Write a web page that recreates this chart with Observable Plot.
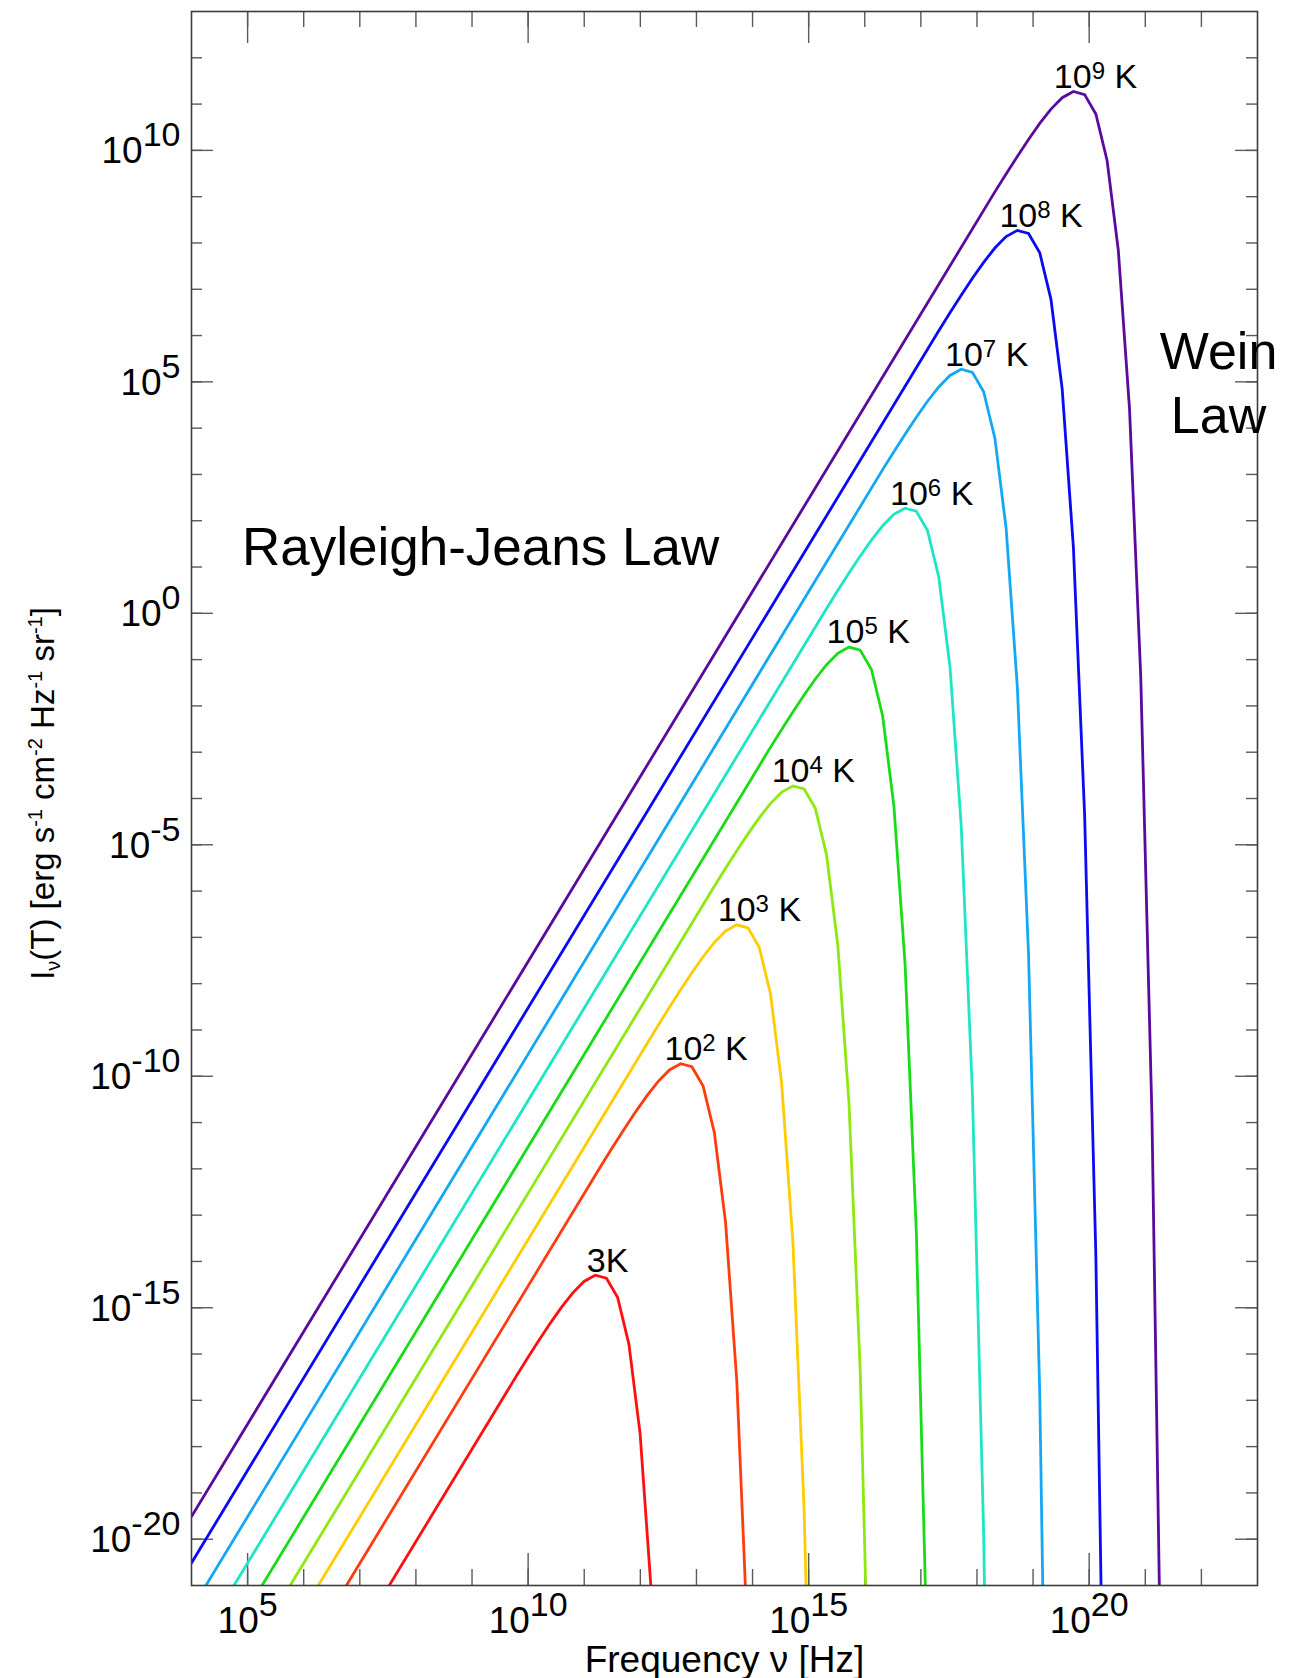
<!DOCTYPE html>
<html><head><meta charset="utf-8">
<script src="https://cdn.jsdelivr.net/npm/d3@7"></script>
<script src="https://cdn.jsdelivr.net/npm/@observablehq/plot@0.6"></script>
<style>
html,body{margin:0;padding:0;background:#fff;}
#chart svg{display:block;font-family:"Liberation Sans",Arial,Helvetica,sans-serif;}
</style></head><body><div id="chart"></div>
<script>
// ---- data (log10 values) ----
const curveNames = ["3K", "10^{2} K", "10^{3} K", "10^{4} K", "10^{5} K", "10^{6} K", "10^{7} K", "10^{8} K", "10^{9} K"];
const curveColors = ["#ff1010", "#ff3c10", "#ffcc00", "#8ee812", "#18dc18", "#1ee6c4", "#14a8f4", "#0a0af5", "#5a0a9c"];

const logNu_3 = [4, 9.796, 9.996, 10.196, 10.396, 10.596, 10.796, 10.996, 11.196, 11.396, 11.596, 11.796, 11.996, 12.196];
const logI_3  = [-28.035, -16.4645, -16.0775, -15.6983, -15.3319, -14.9868, -14.6777, -14.4313, -14.2968, -14.3634, -14.782, -15.7855, -17.7257, -21.1516];

const logNu_1e2 = [4, 11.319, 11.519, 11.719, 11.919, 12.119, 12.319, 12.519, 12.719, 12.919, 13.119, 13.319, 13.519, 13.719, 13.919];
const logI_1e2  = [-26.512, -11.8959, -11.5089, -11.1297, -10.7633, -10.4182, -10.1091, -9.8627, -9.7282, -9.7948, -10.2134, -11.2169, -13.1571, -16.583, -22.3636];

const logNu_1e3 = [4, 12.319, 12.519, 12.719, 12.919, 13.119, 13.319, 13.519, 13.719, 13.919, 14.119, 14.319, 14.519, 14.719, 14.919, 15.119];
const logI_1e3  = [-25.512, -8.8959, -8.5089, -8.1297, -7.7633, -7.4182, -7.1091, -6.8627, -6.7282, -6.7948, -7.2134, -8.2169, -10.1571, -13.583, -19.3636, -28.8761];

const logNu_1e4 = [4, 13.319, 13.519, 13.719, 13.919, 14.119, 14.319, 14.519, 14.719, 14.919, 15.119, 15.319, 15.519, 15.719, 15.919, 16.119];
const logI_1e4  = [-24.512, -5.8959, -5.5089, -5.1297, -4.7633, -4.4182, -4.1091, -3.8627, -3.7282, -3.7948, -4.2134, -5.2169, -7.1571, -10.583, -16.3636, -25.8761];

const logNu_1e5 = [4, 14.319, 14.519, 14.719, 14.919, 15.119, 15.319, 15.519, 15.719, 15.919, 16.119, 16.319, 16.519, 16.719, 16.919, 17.119];
const logI_1e5  = [-23.512, -2.8959, -2.5089, -2.1297, -1.7633, -1.4182, -1.1091, -0.8627, -0.7282, -0.7948, -1.2134, -2.2169, -4.1571, -7.583, -13.3636, -22.8761];

const logNu_1e6 = [4, 15.319, 15.519, 15.719, 15.919, 16.119, 16.319, 16.519, 16.719, 16.919, 17.119, 17.319, 17.519, 17.719, 17.919, 18.119, 18.319];
const logI_1e6  = [-22.512, 0.1041, 0.4911, 0.8703, 1.2367, 1.5818, 1.8909, 2.1373, 2.2718, 2.2052, 1.7866, 0.7831, -1.1571, -4.583, -10.3636, -19.8761, -35.3034];

const logNu_1e7 = [4, 16.319, 16.519, 16.719, 16.919, 17.119, 17.319, 17.519, 17.719, 17.919, 18.119, 18.319, 18.519, 18.719, 18.919, 19.119, 19.319];
const logI_1e7  = [-21.512, 3.1041, 3.4911, 3.8703, 4.2367, 4.5818, 4.8909, 5.1373, 5.2718, 5.2052, 4.7866, 3.7831, 1.8429, -1.583, -7.3636, -16.8761, -32.3034];

const logNu_1e8 = [4, 17.319, 17.519, 17.719, 17.919, 18.119, 18.319, 18.519, 18.719, 18.919, 19.119, 19.319, 19.519, 19.719, 19.919, 20.119, 20.319];
const logI_1e8  = [-20.512, 6.1041, 6.4911, 6.8703, 7.2367, 7.5818, 7.8909, 8.1373, 8.2718, 8.2052, 7.7866, 6.7831, 4.8429, 1.417, -4.3636, -13.8761, -29.3034];

const logNu_1e9 = [4, 18.319, 18.519, 18.719, 18.919, 19.119, 19.319, 19.519, 19.719, 19.919, 20.119, 20.319, 20.519, 20.719, 20.919, 21.119, 21.319];
const logI_1e9  = [-19.512, 9.1041, 9.4911, 9.8703, 10.2367, 10.5818, 10.8909, 11.1373, 11.2718, 11.2052, 10.7866, 9.7831, 7.8429, 4.417, -1.3636, -10.8761, -26.3034];

// curve label anchors (log10 nu, log10 I) – left end of text baseline
const labelLogNu = [11.046, 12.43, 13.38, 14.34, 15.32, 16.45, 17.43, 18.40, 19.37];
const labelLogI  = [-14.226, -9.64, -6.65, -3.65, -0.65, 2.35, 5.35, 8.35, 11.345];

// axis ticks (exponents)
const xMajorExp = [5, 10, 15, 20];
const xMinorExp = [5, 6, 7, 8, 9, 10, 11, 12, 13, 14, 15, 16, 17, 18, 19, 20, 21, 22];
const yMajorExp = [-20, -15, -10, -5, 0, 5, 10];
const yMinorExp = [-20, -19, -18, -17, -16, -15, -14, -13, -12, -11, -10, -9, -8, -7, -6, -5, -4, -3, -2, -1, 0, 1, 2, 3, 4, 5, 6, 7, 8, 9, 10, 11, 12];

// annotations
const annText = ["Rayleigh-Jeans Law", "Wein\nLaw"];
const annLogNu = [4.9, 22.306];
const annLogI = [1.045, 3.897];

const xTitle = "Frequency ν [Hz]";
const yTitle = "I_{ν}(T) [erg s^{-1} cm^{-2} Hz^{-1} sr^{-1}]";

// ---- build tables ----
const curvesNu = [logNu_3, logNu_1e2, logNu_1e3, logNu_1e4, logNu_1e5, logNu_1e6, logNu_1e7, logNu_1e8, logNu_1e9];
const curvesI = [logI_3, logI_1e2, logI_1e3, logI_1e4, logI_1e5, logI_1e6, logI_1e7, logI_1e8, logI_1e9];
const rows = [];
curvesNu.forEach((nus, c) => nus.forEach((v, i) => rows.push({curve: curveNames[c], nu: Math.pow(10, v), I: Math.pow(10, curvesI[c][i])})));
const labels = curveNames.map((n, i) => ({text: n, nu: Math.pow(10, labelLogNu[i]), I: Math.pow(10, labelLogI[i])}));
const anns = annText.map((t, i) => ({text: t, nu: Math.pow(10, annLogNu[i]), I: Math.pow(10, annLogI[i])}));
const p10 = (e) => Math.pow(10, e);

const W = 1306, H = 1678;
const mL = 191, mR = 49, mT = 11, mB = 93;
const fw = W - mL - mR, fh = H - mT - mB;
const tickColor = "#5a5a5a";

const chart = Plot.plot({
  width: W, height: H,
  marginLeft: mL, marginRight: mR, marginTop: mT, marginBottom: mB,
  x: {type: "log", domain: [1e4, 1e23], axis: null},
  y: {type: "log", domain: [1e-21, 1e13], axis: null},
  color: {domain: curveNames, range: curveColors},
  style: {fontFamily: '"Liberation Sans", Arial, Helvetica, sans-serif', background: "#fff"},
  marks: [
    // minor & major ticks, inward on all four sides
    Plot.tickX(xMinorExp, {x: p10, insetTop: fh - 16, stroke: tickColor, strokeWidth: 1.4}),
    Plot.tickX(xMinorExp, {x: p10, insetBottom: fh - 16, stroke: tickColor, strokeWidth: 1.4}),
    Plot.tickX(xMajorExp, {x: p10, insetTop: fh - 32, stroke: tickColor, strokeWidth: 1.4}),
    Plot.tickX(xMajorExp, {x: p10, insetBottom: fh - 32, stroke: tickColor, strokeWidth: 1.4}),
    Plot.tickY(yMinorExp, {y: p10, insetRight: fw - 11, stroke: tickColor, strokeWidth: 1.4}),
    Plot.tickY(yMinorExp, {y: p10, insetLeft: fw - 11, stroke: tickColor, strokeWidth: 1.4}),
    Plot.tickY(yMajorExp, {y: p10, insetRight: fw - 22, stroke: tickColor, strokeWidth: 1.4}),
    Plot.tickY(yMajorExp, {y: p10, insetLeft: fw - 22, stroke: tickColor, strokeWidth: 1.4}),
    // curves
    Plot.line(rows, {x: "nu", y: "I", z: "curve", stroke: "curve", strokeWidth: 2.8, clip: true, strokeLinejoin: "miter", strokeMiterlimit: 2}),
    Plot.frame({stroke: "#3c3c3c", strokeWidth: 1.6}),
    // tick labels
    Plot.text(xMajorExp, {x: p10, text: d => `10^{${d}}`, frameAnchor: "bottom", lineAnchor: "bottom", dy: 47, fontSize: 37, fill: "#000"}),
    Plot.text(yMajorExp, {y: p10, text: d => `10^{${d}}`, frameAnchor: "left", textAnchor: "end", lineAnchor: "bottom", dx: -11, dy: 13, fontSize: 37, fill: "#000"}),
    // curve labels
    Plot.text(labels, {x: "nu", y: "I", text: "text", textAnchor: "start", lineAnchor: "bottom", fontSize: 34, fill: "#000"}),
    // annotations
    Plot.text(anns.slice(0, 1), {x: "nu", y: "I", text: "text", textAnchor: "start", lineAnchor: "bottom", fontSize: 53, fill: "#000"}),
    Plot.text(anns.slice(1), {x: "nu", y: "I", text: "text", textAnchor: "middle", lineAnchor: "bottom", lineHeight: 1.22, fontSize: 52, fill: "#000"}),
    // axis titles
    Plot.text([xTitle], {frameAnchor: "bottom", textAnchor: "middle", lineAnchor: "bottom", dy: 86, fontSize: 37, fill: "#000"}),
    Plot.text([yTitle], {frameAnchor: "left", textAnchor: "middle", rotate: -90, lineAnchor: "bottom", dx: -137.5, dy: -5, fontSize: 33, fill: "#000"})
  ]
});

// rich text: ^{..} superscripts, _{..} subscripts
const scriptStyle = {
  37: {sup: 34, raise: 17, sub: 24, lower: 6},
  34: {sup: 24, raise: 9, sub: 20, lower: 6},
  33: {sup: 20, raise: 12, sub: 20, lower: 6}
};
chart.querySelectorAll("text").forEach(t => {
  const s = t.textContent;
  if (!/[\^_]\{/.test(s)) return;
  const g = t.closest("[font-size]");
  const fs = g ? parseFloat(g.getAttribute("font-size")) : 33;
  const P = scriptStyle[fs] || scriptStyle[33];
  while (t.firstChild) t.removeChild(t.firstChild);
  const re = /([\^_])\{([^}]*)\}/g;
  let last = 0, m, cur = 0;
  const add = (txt, size, target) => {
    const ts = document.createElementNS("http://www.w3.org/2000/svg", "tspan");
    if (size) ts.setAttribute("font-size", size);
    if (target !== cur) ts.setAttribute("dy", target - cur);
    cur = target;
    ts.textContent = txt;
    t.appendChild(ts);
  };
  while ((m = re.exec(s))) {
    if (m.index > last) add(s.slice(last, m.index), null, 0);
    if (m[1] === "^") add(m[2], P.sup, -P.raise);
    else add(m[2], P.sub, P.lower);
    last = re.lastIndex;
  }
  if (last < s.length) add(s.slice(last), null, 0);
});

document.getElementById("chart").appendChild(chart);
</script></body></html>
